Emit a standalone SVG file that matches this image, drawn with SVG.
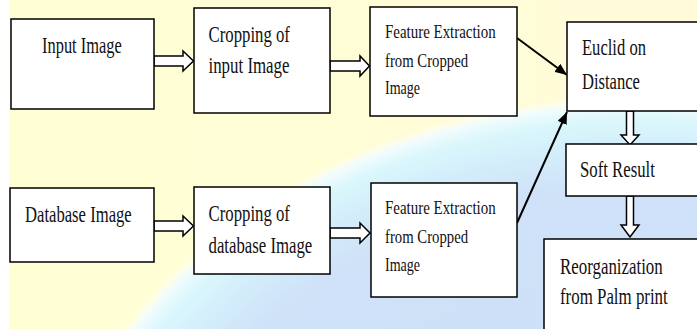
<svg xmlns="http://www.w3.org/2000/svg" width="697" height="329" viewBox="0 0 697 329">
<style>
.box{fill:#fff;stroke:#000;stroke-width:1.5}
.t{font-family:"Liberation Serif","Times New Roman",serif;font-size:22.5px;fill:#111}
.f{font-family:"Liberation Serif","Times New Roman",serif;font-size:18px;fill:#111}
.ha{fill:#fff;stroke:#000;stroke-width:1.5;stroke-linejoin:miter}
.ln{stroke:#000;stroke-width:2;fill:none}
</style>
<defs>
<linearGradient id="yel" x1="0" y1="0" x2="1" y2="0">
<stop offset="0" stop-color="#FFFFD4"/>
<stop offset="0.5" stop-color="#FFFDD6"/>
<stop offset="1" stop-color="#FFFBDA"/>
</linearGradient>
<radialGradient id="blu" cx="0.5" cy="0.5" r="0.5">
<stop offset="0" stop-color="#CCDDF7"/>
<stop offset="0.82" stop-color="#CFE2F8"/>
<stop offset="0.9" stop-color="#D4EEFB"/>
<stop offset="0.95" stop-color="#DAF7FC"/>
<stop offset="0.98" stop-color="#F2FCFC"/>
<stop offset="1" stop-color="#FFFFFF" stop-opacity="0"/>
</radialGradient>
<marker id="ah" markerWidth="12" markerHeight="10" refX="12" refY="5" orient="auto" markerUnits="userSpaceOnUse">
<path d="M0,0 L12,5 L0,10 Z" fill="#000"/>
</marker>
</defs>
<rect x="0" y="0" width="697" height="329" fill="url(#yel)"/>
<ellipse cx="640" cy="600" rx="615" ry="505" fill="url(#blu)"/>
<rect x="0" y="0" width="9" height="329" fill="#fff"/>

<g id="connectors">
<path class="ha" d="M154,56 H183 V51 L193.5,61 L183,71 V66 H154 Z"/>
<path class="ha" d="M330,61 H360 V56 L369.5,66 L360,76 V71 H330 Z"/>
<path class="ha" d="M154,221 H183 V216 L193.5,226 L183,236 V231 H154 Z"/>
<path class="ha" d="M330,228 H360 V223 L370,233 L360,243 V238 H330 Z"/>
<path class="ha" d="M626.5,111 V135 H621 L630,145 L639,135 H633.5 V111 Z"/>
<path class="ha" d="M626.5,196 V225 H621 L630,237 L639,225 H633.5 V196 Z"/>
<line class="ln" x1="517" y1="38" x2="567" y2="75" marker-end="url(#ah)"/>
<line class="ln" x1="517" y1="223" x2="567" y2="112" marker-end="url(#ah)"/>
</g>

<g id="input-image">
<rect class="box" x="11" y="19" width="143" height="90"/>
<text class="t" transform="translate(42,52.5) scale(0.73,1)">Input Image</text>
</g>
<g id="cropping-input">
<rect class="box" x="194" y="8" width="136" height="105"/>
<text class="t" transform="translate(208.5,42) scale(0.745,1)">Cropping of</text>
<text class="t" transform="translate(208.5,73) scale(0.75,1)">input Image</text>
</g>
<g id="feature-top">
<rect class="box" x="370" y="7" width="147" height="109"/>
<text class="f" transform="translate(385,38) scale(0.83,1)">Feature Extraction</text>
<text class="f" transform="translate(385,66.5) scale(0.82,1)">from Cropped</text>
<text class="f" transform="translate(385,94) scale(0.78,1)">Image</text>
</g>
<g id="euclid">
<rect class="box" x="567" y="22" width="140" height="89"/>
<text class="t" transform="translate(582,55) scale(0.737,1)">Euclid on</text>
<text class="t" transform="translate(582,88.5) scale(0.737,1)">Distance</text>
</g>
<g id="soft-result">
<rect class="box" x="566" y="144" width="141" height="52"/>
<text class="t" transform="translate(580,177) scale(0.745,1)">Soft Result</text>
</g>
<g id="reorganization">
<rect class="box" x="544" y="239" width="163" height="100"/>
<text class="t" transform="translate(560,273.5) scale(0.75,1)">Reorganization</text>
<text class="t" transform="translate(560,304) scale(0.75,1)">from Palm print</text>
</g>
<g id="database-image">
<rect class="box" x="10" y="188" width="144" height="74"/>
<text class="t" transform="translate(25,222) scale(0.74,1)">Database Image</text>
</g>
<g id="cropping-database">
<rect class="box" x="194" y="187" width="136" height="87"/>
<text class="t" transform="translate(208.5,221) scale(0.745,1)">Cropping of</text>
<text class="t" transform="translate(208.5,252.5) scale(0.746,1)">database Image</text>
</g>
<g id="feature-bottom">
<rect class="box" x="371" y="183" width="146" height="114"/>
<text class="f" transform="translate(385,214) scale(0.83,1)">Feature Extraction</text>
<text class="f" transform="translate(385,243) scale(0.82,1)">from Cropped</text>
<text class="f" transform="translate(385,270.5) scale(0.78,1)">Image</text>
</g>
</svg>
